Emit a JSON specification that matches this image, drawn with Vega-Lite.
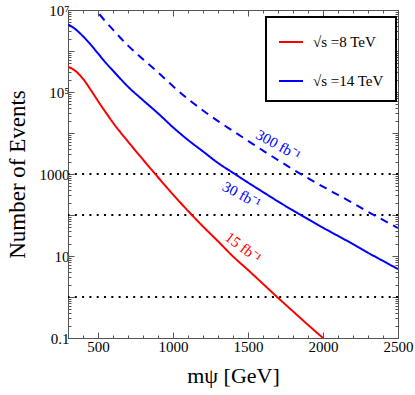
{
  "$schema": "https://vega.github.io/schema/vega-lite/v6.json",
  "width": 330,
  "height": 328,
  "autosize": "none",
  "padding": {"left": 68, "top": 10, "right": 17, "bottom": 57},
  "background": "white",
  "config": {
    "view": {"stroke": "#555"},
    "font": "Liberation Serif",
    "legend": {"strokeWidth": 2, "labelFont": "Liberation Serif", "labelFontSize": 15}
  },
  "datasets": {
    "curves": [
      {"m": 300, "n": 414000, "energy": "8 TeV", "lumi": "15"},
      {"m": 350, "n": 324000, "energy": "8 TeV", "lumi": "15"},
      {"m": 400, "n": 209000, "energy": "8 TeV", "lumi": "15"},
      {"m": 450, "n": 115000, "energy": "8 TeV", "lumi": "15"},
      {"m": 500, "n": 60300, "energy": "8 TeV", "lumi": "15"},
      {"m": 550, "n": 32400, "energy": "8 TeV", "lumi": "15"},
      {"m": 600, "n": 17800, "energy": "8 TeV", "lumi": "15"},
      {"m": 700, "n": 6170, "energy": "8 TeV", "lumi": "15"},
      {"m": 800, "n": 2240, "energy": "8 TeV", "lumi": "15"},
      {"m": 900, "n": 832, "energy": "8 TeV", "lumi": "15"},
      {"m": 1000, "n": 316, "energy": "8 TeV", "lumi": "15"},
      {"m": 1100, "n": 126, "energy": "8 TeV", "lumi": "15"},
      {"m": 1200, "n": 52.5, "energy": "8 TeV", "lumi": "15"},
      {"m": 1300, "n": 22.9, "energy": "8 TeV", "lumi": "15"},
      {"m": 1400, "n": 9.77, "energy": "8 TeV", "lumi": "15"},
      {"m": 1500, "n": 4.57, "energy": "8 TeV", "lumi": "15"},
      {"m": 1600, "n": 2.09, "energy": "8 TeV", "lumi": "15"},
      {"m": 1700, "n": 0.955, "energy": "8 TeV", "lumi": "15"},
      {"m": 1800, "n": 0.447, "energy": "8 TeV", "lumi": "15"},
      {"m": 1900, "n": 0.209, "energy": "8 TeV", "lumi": "15"},
      {"m": 2000, "n": 0.1, "energy": "8 TeV", "lumi": "15"},

      {"m": 300, "n": 4480000, "energy": "14 TeV", "lumi": "30"},
      {"m": 350, "n": 3390000, "energy": "14 TeV", "lumi": "30"},
      {"m": 400, "n": 2290000, "energy": "14 TeV", "lumi": "30"},
      {"m": 450, "n": 1445000, "energy": "14 TeV", "lumi": "30"},
      {"m": 500, "n": 871000, "energy": "14 TeV", "lumi": "30"},
      {"m": 550, "n": 525000, "energy": "14 TeV", "lumi": "30"},
      {"m": 600, "n": 331000, "energy": "14 TeV", "lumi": "30"},
      {"m": 700, "n": 135000, "energy": "14 TeV", "lumi": "30"},
      {"m": 800, "n": 63100, "energy": "14 TeV", "lumi": "30"},
      {"m": 900, "n": 30200, "energy": "14 TeV", "lumi": "30"},
      {"m": 1000, "n": 13800, "energy": "14 TeV", "lumi": "30"},
      {"m": 1100, "n": 6760, "energy": "14 TeV", "lumi": "30"},
      {"m": 1200, "n": 3550, "energy": "14 TeV", "lumi": "30"},
      {"m": 1300, "n": 1860, "energy": "14 TeV", "lumi": "30"},
      {"m": 1400, "n": 1070, "energy": "14 TeV", "lumi": "30"},
      {"m": 1500, "n": 617, "energy": "14 TeV", "lumi": "30"},
      {"m": 1600, "n": 363, "energy": "14 TeV", "lumi": "30"},
      {"m": 1700, "n": 214, "energy": "14 TeV", "lumi": "30"},
      {"m": 1800, "n": 129, "energy": "14 TeV", "lumi": "30"},
      {"m": 1900, "n": 79.4, "energy": "14 TeV", "lumi": "30"},
      {"m": 2000, "n": 49.0, "energy": "14 TeV", "lumi": "30"},
      {"m": 2100, "n": 30.9, "energy": "14 TeV", "lumi": "30"},
      {"m": 2200, "n": 19.5, "energy": "14 TeV", "lumi": "30"},
      {"m": 2300, "n": 12.0, "energy": "14 TeV", "lumi": "30"},
      {"m": 2400, "n": 7.59, "energy": "14 TeV", "lumi": "30"},
      {"m": 2500, "n": 4.79, "energy": "14 TeV", "lumi": "30"},

      {"m": 450, "n": 14500000, "energy": "14 TeV", "lumi": "300"},
      {"m": 500, "n": 8710000, "energy": "14 TeV", "lumi": "300"},
      {"m": 550, "n": 5250000, "energy": "14 TeV", "lumi": "300"},
      {"m": 600, "n": 3310000, "energy": "14 TeV", "lumi": "300"},
      {"m": 700, "n": 1350000, "energy": "14 TeV", "lumi": "300"},
      {"m": 800, "n": 631000, "energy": "14 TeV", "lumi": "300"},
      {"m": 900, "n": 302000, "energy": "14 TeV", "lumi": "300"},
      {"m": 1000, "n": 138000, "energy": "14 TeV", "lumi": "300"},
      {"m": 1100, "n": 67600, "energy": "14 TeV", "lumi": "300"},
      {"m": 1200, "n": 35500, "energy": "14 TeV", "lumi": "300"},
      {"m": 1300, "n": 19500, "energy": "14 TeV", "lumi": "300"},
      {"m": 1400, "n": 11200, "energy": "14 TeV", "lumi": "300"},
      {"m": 1500, "n": 6460, "energy": "14 TeV", "lumi": "300"},
      {"m": 1600, "n": 3720, "energy": "14 TeV", "lumi": "300"},
      {"m": 1700, "n": 2190, "energy": "14 TeV", "lumi": "300"},
      {"m": 1800, "n": 1290, "energy": "14 TeV", "lumi": "300"},
      {"m": 1900, "n": 794, "energy": "14 TeV", "lumi": "300"},
      {"m": 2000, "n": 490, "energy": "14 TeV", "lumi": "300"},
      {"m": 2100, "n": 309, "energy": "14 TeV", "lumi": "300"},
      {"m": 2200, "n": 195, "energy": "14 TeV", "lumi": "300"},
      {"m": 2300, "n": 120, "energy": "14 TeV", "lumi": "300"},
      {"m": 2400, "n": 75.9, "energy": "14 TeV", "lumi": "300"},
      {"m": 2500, "n": 47.9, "energy": "14 TeV", "lumi": "300"}
    ],
    "labels": [
      {"m": 1702, "n": 5090, "lumi": "300", "txt": "300 fb⁻¹"},
      {"m": 1458, "n": 308, "lumi": "30", "txt": "30 fb⁻¹"},
      {"m": 1469, "n": 16.1, "lumi": "15", "txt": "15 fb⁻¹"}
    ],
    "levels": [{"n": 1000}, {"n": 100}, {"n": 1}]
  },
  "layer": [
    {
      "data": {"name": "levels"},
      "mark": {"type": "rule", "strokeDash": [2, 5.3], "strokeWidth": 2, "color": "black"},
      "encoding": {
        "y": {"field": "n", "type": "quantitative", "scale": {"type": "log", "domain": [0.1, 10000000]}, "axis": null}
      }
    },
    {
      "data": {"name": "curves"},
      "mark": {"type": "line", "strokeWidth": 2, "interpolate": "monotone", "clip": true},
      "encoding": {
        "x": {
          "field": "m", "type": "quantitative",
          "scale": {"domain": [300, 2500], "nice": false, "zero": false},
          "axis": {
            "orient": "bottom",
            "values": [300,400,500,600,700,800,900,1000,1100,1200,1300,1400,1500,1600,1700,1800,1900,2000,2100,2200,2300,2400,2500],
            "format": "d",
            "labelExpr": "datum.value % 500 === 0 ? datum.label : ''",
            "labelOverlap": false,
            "labelFlush": false,
            "grid": false,
            "tickSize": {"condition": {"test": "datum.value % 500 === 0", "value": -6}, "value": -3},
            "tickColor": "#555",
            "domainColor": "#555",
            "labelFont": "Liberation Serif",
            "labelFontSize": 15,
            "labelColor": "black",
            "labelPadding": 7,
            "title": "mψ [GeV]",
            "titleFont": "Liberation Serif",
            "titleFontSize": 22,
            "titleFontWeight": "normal",
            "titleColor": "black",
            "titleX": 165,
            "titleY": 44,
            "titleBaseline": "alphabetic",
            "titleAlign": "center"
          }
        },
        "y": {
          "field": "n", "type": "quantitative",
          "scale": {"type": "log", "domain": [0.1, 10000000]},
          "axis": {
            "orient": "left",
            "values": [0.1,0.2,0.3,0.4,0.5,0.6,0.7,0.8,0.9,1,2,3,4,5,6,7,8,9,10,20,30,40,50,60,70,80,90,100,200,300,400,500,600,700,800,900,1000,2000,3000,4000,5000,6000,7000,8000,9000,10000,20000,30000,40000,50000,60000,70000,80000,90000,100000,200000,300000,400000,500000,600000,700000,800000,900000,1000000,2000000,3000000,4000000,5000000,6000000,7000000,8000000,9000000,10000000],
            "labelExpr": "datum.value===0.1?'0.1':datum.value===10?'10':datum.value===1000?'1000':datum.value===100000?'10⁵':datum.value===10000000?'10⁷':''",
            "labelOverlap": false,
            "labelFlush": false,
            "grid": false,
            "tickSize": {"condition": {"test": "abs(log(datum.value)/LN10 - round(log(datum.value)/LN10)) < 0.000001", "value": -6}, "value": -3},
            "tickColor": "#555",
            "domainColor": "#555",
            "labelFont": "Liberation Serif",
            "labelFontSize": 15,
            "labelColor": "black",
            "labelPadding": 5,
            "title": "Number of Events",
            "titleFont": "Liberation Serif",
            "titleFontSize": 23,
            "titleFontWeight": "normal",
            "titleColor": "black",
            "titleAngle": -90,
            "titleX": -44,
            "titleY": 164,
            "titleBaseline": "alphabetic",
            "titleAlign": "center"
          }
        },
        "color": {
          "field": "energy", "type": "nominal",
          "scale": {"domain": ["8 TeV", "14 TeV"], "range": ["#ff0000", "#0000ff"]},
          "legend": {
            "orient": "none",
            "legendX": 198,
            "legendY": 7,
            "title": null,
            "symbolType": "stroke",
            "symbolSize": 576,
            "symbolStrokeWidth": 2,
            "labelFont": "Liberation Serif",
            "labelFontSize": 15,
            "labelColor": "black",
            "labelOffset": 9,
            "padding": 12,
            "rowPadding": 18,
            "strokeColor": "black",
            "fillColor": "white",
            "labelExpr": "'√s =' + datum.label"
          }
        },
        "strokeDash": {
          "field": "lumi", "type": "nominal",
          "scale": {"domain": ["15", "30", "300"], "range": [[1, 0], [1, 0], [8, 6]]},
          "legend": null
        }
      }
    },
    {
      "data": {"name": "labels"},
      "transform": [{"filter": "datum.lumi === '300'"}],
      "mark": {"type": "text", "angle": 29, "color": "#0000ff", "font": "Liberation Serif", "fontSize": 15, "align": "center", "baseline": "middle"},
      "encoding": {
        "x": {
          "field": "m", "type": "quantitative",
          "axis": {
            "orient": "top",
            "values": [300,400,500,600,700,800,900,1000,1100,1200,1300,1400,1500,1600,1700,1800,1900,2000,2100,2200,2300,2400,2500],
            "labels": false,
            "grid": false,
            "title": null,
            "tickSize": {"condition": {"test": "datum.value % 500 === 0", "value": -6}, "value": -3},
            "tickColor": "#555",
            "domainColor": "#555"
          }
        },
        "y": {
          "field": "n", "type": "quantitative",
          "axis": {
            "orient": "right",
            "values": [0.1,0.2,0.3,0.4,0.5,0.6,0.7,0.8,0.9,1,2,3,4,5,6,7,8,9,10,20,30,40,50,60,70,80,90,100,200,300,400,500,600,700,800,900,1000,2000,3000,4000,5000,6000,7000,8000,9000,10000,20000,30000,40000,50000,60000,70000,80000,90000,100000,200000,300000,400000,500000,600000,700000,800000,900000,1000000,2000000,3000000,4000000,5000000,6000000,7000000,8000000,9000000,10000000],
            "labels": false,
            "grid": false,
            "title": null,
            "tickSize": {"condition": {"test": "abs(log(datum.value)/LN10 - round(log(datum.value)/LN10)) < 0.000001", "value": -6}, "value": -3},
            "tickColor": "#555",
            "domainColor": "#555"
          }
        },
        "text": {"field": "txt", "type": "nominal"}
      }
    },
    {
      "data": {"name": "labels"},
      "transform": [{"filter": "datum.lumi === '30'"}],
      "mark": {"type": "text", "angle": 28, "color": "#0000ff", "font": "Liberation Serif", "fontSize": 15, "align": "center", "baseline": "middle"},
      "encoding": {
        "x": {"field": "m", "type": "quantitative", "axis": null},
        "y": {"field": "n", "type": "quantitative", "axis": null},
        "text": {"field": "txt", "type": "nominal"}
      }
    },
    {
      "data": {"name": "labels"},
      "transform": [{"filter": "datum.lumi === '15'"}],
      "mark": {"type": "text", "angle": 37, "color": "#ff0000", "font": "Liberation Serif", "fontSize": 15, "align": "center", "baseline": "middle"},
      "encoding": {
        "x": {"field": "m", "type": "quantitative", "axis": null},
        "y": {"field": "n", "type": "quantitative", "axis": null},
        "text": {"field": "txt", "type": "nominal"}
      }
    }
  ],
  "resolve": {"axis": {"x": "independent", "y": "independent"}}
}
